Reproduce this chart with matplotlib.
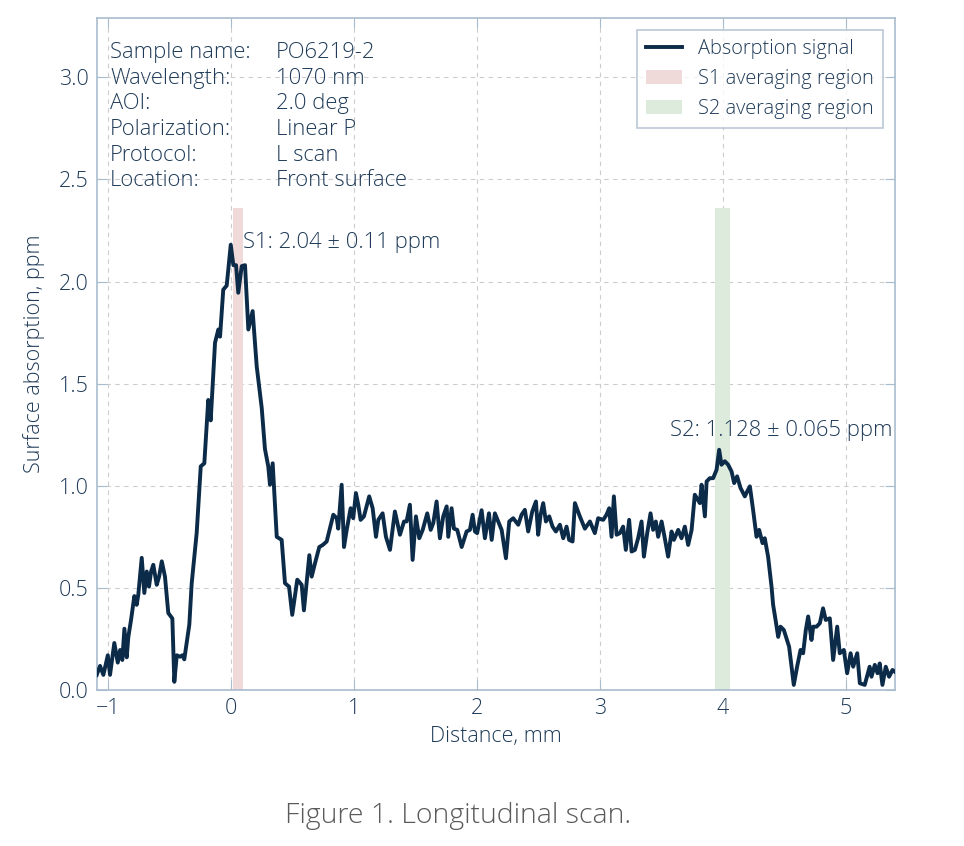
import matplotlib
matplotlib.use("Agg")
import matplotlib.pyplot as plt

LINE_COLOR = "#0b2b49"
TEXT_COLOR = "#1f3b58"
SPINE_COLOR = "#a9bccd"
S1_COLOR = "#f0d9d9"
S2_COLOR = "#dcebdc"

# scan data
distance_mm = [
    -1.092, -1.065, -1.038, -1.002, -0.984, -0.949, -0.921, -0.902, -0.884, -0.867,
    -0.848, -0.835, -0.813, -0.786, -0.767, -0.754, -0.726, -0.705, -0.685, -0.667,
    -0.650, -0.632, -0.604, -0.585, -0.563, -0.537, -0.510, -0.477, -0.461, -0.441,
    -0.415, -0.396, -0.380, -0.339, -0.320, -0.279, -0.246, -0.217, -0.185, -0.165,
    -0.130, -0.103, -0.089, -0.063, -0.035, -0.002, 0.019, 0.041, 0.059, 0.087,
    0.114, 0.141, 0.176, 0.209, 0.250, 0.276, 0.303, 0.317, 0.339, 0.372,
    0.412, 0.439, 0.472, 0.498, 0.539, 0.575, 0.593, 0.637, 0.656, 0.683,
    0.718, 0.746, 0.778, 0.832, 0.860, 0.872, 0.900, 0.919, 0.941, 0.973,
    0.994, 1.016, 1.035, 1.054, 1.081, 1.124, 1.152, 1.179, 1.198, 1.233,
    1.260, 1.293, 1.333, 1.374, 1.407, 1.428, 1.455, 1.477, 1.504, 1.531,
    1.559, 1.596, 1.624, 1.645, 1.672, 1.699, 1.726, 1.754, 1.767, 1.794,
    1.813, 1.840, 1.876, 1.916, 1.943, 1.965, 1.984, 2.002, 2.038, 2.065,
    2.098, 2.120, 2.146, 2.173, 2.201, 2.236, 2.263, 2.295, 2.336, 2.363,
    2.390, 2.417, 2.450, 2.480, 2.498, 2.518, 2.539, 2.561, 2.588, 2.615,
    2.642, 2.675, 2.702, 2.729, 2.750, 2.778, 2.797, 2.837, 2.878, 2.919,
    2.959, 2.986, 3.027, 3.054, 3.076, 3.095, 3.114, 3.136, 3.163, 3.189,
    3.211, 3.238, 3.258, 3.285, 3.311, 3.339, 3.358, 3.385, 3.412, 3.433,
    3.455, 3.474, 3.502, 3.528, 3.555, 3.583, 3.602, 3.637, 3.664, 3.691,
    3.718, 3.746, 3.772, 3.813, 3.827, 3.854, 3.868, 3.894, 3.921, 3.949,
    3.970, 3.989, 4.016, 4.043, 4.071, 4.092, 4.116, 4.144, 4.179, 4.198,
    4.220, 4.246, 4.274, 4.295, 4.323, 4.341, 4.368, 4.396, 4.409, 4.431,
    4.450, 4.469, 4.496, 4.539, 4.577, 4.604, 4.632, 4.653, 4.675, 4.694,
    4.721, 4.735, 4.762, 4.789, 4.815, 4.837, 4.870, 4.897, 4.930, 4.951,
    4.984, 5.011, 5.039, 5.060, 5.093, 5.114, 5.154, 5.194, 5.209, 5.236,
    5.258, 5.276, 5.298, 5.325, 5.352, 5.380, 5.398,
]
absorption_ppm = [
    0.074, 0.118, 0.074, 0.170, 0.074, 0.230, 0.134, 0.196, 0.147, 0.300,
    0.160, 0.260, 0.343, 0.460, 0.417, 0.466, 0.647, 0.475, 0.580, 0.506,
    0.580, 0.613, 0.515, 0.555, 0.630, 0.555, 0.377, 0.350, 0.040, 0.170,
    0.163, 0.170, 0.150, 0.320, 0.520, 0.770, 1.095, 1.110, 1.420, 1.320,
    1.700, 1.765, 1.730, 1.960, 1.980, 2.180, 2.080, 2.080, 1.945, 2.075,
    2.080, 1.765, 1.855, 1.585, 1.380, 1.180, 1.095, 1.005, 1.110, 0.750,
    0.735, 0.523, 0.506, 0.368, 0.540, 0.515, 0.390, 0.660, 0.555, 0.620,
    0.700, 0.710, 0.727, 0.858, 0.841, 0.790, 1.005, 0.700, 0.784, 0.890,
    0.841, 0.964, 0.907, 0.833, 0.850, 0.948, 0.890, 0.750, 0.833, 0.865,
    0.750, 0.686, 0.874, 0.760, 0.825, 0.825, 0.907, 0.637, 0.850, 0.743,
    0.784, 0.865, 0.784, 0.817, 0.923, 0.743, 0.850, 0.899, 0.750, 0.890,
    0.790, 0.784, 0.700, 0.776, 0.784, 0.858, 0.776, 0.768, 0.880, 0.743,
    0.865, 0.735, 0.865, 0.825, 0.784, 0.645, 0.825, 0.841, 0.809, 0.858,
    0.882, 0.776, 0.874, 0.923, 0.760, 0.858, 0.915, 0.825, 0.850, 0.800,
    0.776, 0.809, 0.743, 0.800, 0.735, 0.727, 0.915, 0.850, 0.790, 0.825,
    0.768, 0.841, 0.833, 0.858, 0.890, 0.750, 0.948, 0.760, 0.768, 0.800,
    0.686, 0.833, 0.678, 0.686, 0.743, 0.825, 0.653, 0.768, 0.865, 0.784,
    0.825, 0.750, 0.825, 0.743, 0.653, 0.776, 0.735, 0.784, 0.743, 0.800,
    0.710, 0.784, 0.956, 0.915, 1.005, 0.850, 1.021, 1.037, 1.037, 1.078,
    1.176, 1.103, 1.120, 1.103, 1.070, 1.013, 1.046, 0.989, 0.948, 0.972,
    0.997, 0.882, 0.750, 0.784, 0.719, 0.743, 0.653, 0.506, 0.417, 0.335,
    0.260, 0.310, 0.294, 0.212, 0.025, 0.114, 0.196, 0.180, 0.294, 0.360,
    0.245, 0.310, 0.310, 0.327, 0.400, 0.343, 0.351, 0.147, 0.310, 0.180,
    0.196, 0.082, 0.180, 0.114, 0.180, 0.033, 0.025, 0.114, 0.065, 0.123,
    0.082, 0.130, 0.025, 0.114, 0.065, 0.098, 0.090,
]

s1_range = [0.02, 0.10]
s2_range = [3.94, 4.06]
span_top = 2.36

info_keys = ["Sample name:", "Wavelength:", "AOI:", "Polarization:", "Protocol:", "Location:"]
info_values = ["PO6219-2", "1070 nm", "2.0 deg", "Linear P", "L scan", "Front surface"]

s1_label = "S1: 2.04 \u00b1 0.11 ppm"
s2_label = "S2: 1.128 \u00b1 0.065 ppm"

plt.rcParams["font.family"] = ["Open Sans", "DejaVu Sans"]

fig = plt.figure(figsize=(9.64, 8.46), dpi=100)
ax = fig.add_axes([0.1006, 0.1844, 0.8278, 0.7943])

ax.fill_between(s1_range, 0, span_top, color=S1_COLOR, lw=0, label="S1 averaging region", zorder=1)
ax.fill_between(s2_range, 0, span_top, color=S2_COLOR, lw=0, label="S2 averaging region", zorder=1)
ax.plot(distance_mm, absorption_ppm, color=LINE_COLOR, lw=2.8, label="Absorption signal", zorder=3)

ax.set_xlim(-1.09, 5.40)
ax.set_ylim(0, 3.29)
ax.set_xticks([-1, 0, 1, 2, 3, 4, 5])
ax.set_xticklabels(["\u22121", "0", "1", "2", "3", "4", "5"])
ax.set_yticks([0, 0.5, 1.0, 1.5, 2.0, 2.5, 3.0])

ax.grid(True, color="#cccccc", ls=(0, (4, 4)), lw=0.8, zorder=0)
ax.set_axisbelow(True)
for s in ax.spines.values():
    s.set_color(SPINE_COLOR)
    s.set_linewidth(1.2)
ax.tick_params(direction="in", length=7, color=SPINE_COLOR, top=True, right=True,
               labelsize=15.5, labelcolor=TEXT_COLOR, pad=6)
for lab in ax.get_xticklabels() + ax.get_yticklabels():
    lab.set_fontweight("light")

ax.set_xlabel("Distance, mm", fontsize=15.5, color=TEXT_COLOR, fontweight="light", labelpad=5)
ax.set_ylabel("Surface absorption, ppm", fontsize=15.5, color=TEXT_COLOR, fontweight="light", labelpad=10)

for i, (k, v) in enumerate(zip(info_keys, info_values)):
    yy = 0.949 - i * 0.0383
    ax.text(0.0163, yy, k, transform=ax.transAxes, fontsize=15.8, color=TEXT_COLOR,
            fontweight="light", va="center", ha="left")
    ax.text(0.224, yy, v, transform=ax.transAxes, fontsize=15.8, color=TEXT_COLOR,
            fontweight="light", va="center", ha="left")

ax.text(0.10, 2.19, s1_label, fontsize=15.8, color=TEXT_COLOR, fontweight="light", va="center", ha="left")
ax.text(3.57, 1.27, s2_label, fontsize=15.8, color=TEXT_COLOR, fontweight="light", va="center", ha="left")

handles, labels = ax.get_legend_handles_labels()
order = [2, 0, 1]
leg = ax.legend([handles[i] for i in order], [labels[i] for i in order], loc="upper right",
                fontsize=14.4, frameon=True, fancybox=False, borderaxespad=0.6,
                handlelength=1.8, labelspacing=0.5, borderpad=0.45)
leg.get_frame().set_edgecolor(SPINE_COLOR)
leg.get_frame().set_linewidth(1.2)
for t in leg.get_texts():
    t.set_color(TEXT_COLOR)
    t.set_fontweight("light")

fig.text(0.475, 0.036, "Figure 1. Longitudinal scan.", fontsize=20.5, color="#5a5a5a",
         fontweight="light", ha="center", va="center")

fig.savefig("out.png", dpi=100)
